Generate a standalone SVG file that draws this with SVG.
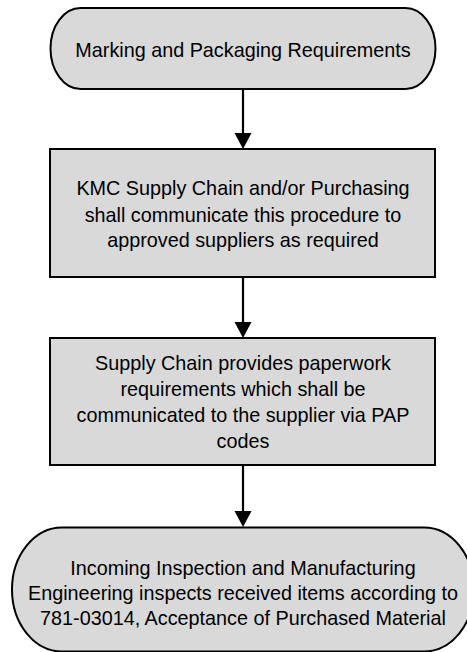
<svg xmlns="http://www.w3.org/2000/svg" width="467" height="652" viewBox="0 0 467 652">
<style>
.shape{fill:#d9d9d9;stroke:#000;stroke-width:2}
.t{font-family:"Liberation Sans",Arial,sans-serif;font-size:19.8px;fill:#000;text-anchor:middle}
.edge{stroke:#000;stroke-width:2.2;fill:none}
.head{fill:#000}
</style>
<rect width="467" height="652" fill="#fff"/>
<g id="connectors">
<line class="edge" x1="243" y1="89" x2="243" y2="134"/>
<polygon class="head" points="234.5,133 251.5,133 243,149"/>
<line class="edge" x1="243" y1="277" x2="243" y2="323"/>
<polygon class="head" points="234.5,322 251.5,322 243,338"/>
<line class="edge" x1="243" y1="465" x2="243" y2="512"/>
<polygon class="head" points="234.5,511 251.5,511 243,527"/>
</g>
<g id="start">
<rect class="shape" x="50.5" y="8" width="385" height="81" rx="30" ry="40.5"/>
<text class="t" x="243" y="57">Marking and Packaging Requirements</text>
</g>
<g id="communicate">
<rect class="shape" x="50" y="149" width="385" height="128"/>
<text class="t" x="243" y="195">KMC Supply Chain and/or Purchasing</text>
<text class="t" x="243" y="221.5">shall communicate this procedure to</text>
<text class="t" x="243" y="247">approved suppliers as required</text>
</g>
<g id="paperwork">
<rect class="shape" x="50" y="338" width="385" height="127"/>
<text class="t" x="243" y="370">Supply Chain provides paperwork</text>
<text class="t" x="243" y="396">requirements which shall be</text>
<text class="t" x="243" y="422">communicated to the supplier via PAP</text>
<text class="t" x="243" y="448">codes</text>
</g>
<g id="inspection">
<rect class="shape" x="12" y="527.5" width="462" height="124" rx="50" ry="62"/>
<text class="t" x="243" y="575">Incoming Inspection and Manufacturing</text>
<text class="t" x="243" y="600">Engineering inspects received items according to</text>
<text class="t" x="243" y="625">781-03014, Acceptance of Purchased Material</text>
</g>
</svg>
